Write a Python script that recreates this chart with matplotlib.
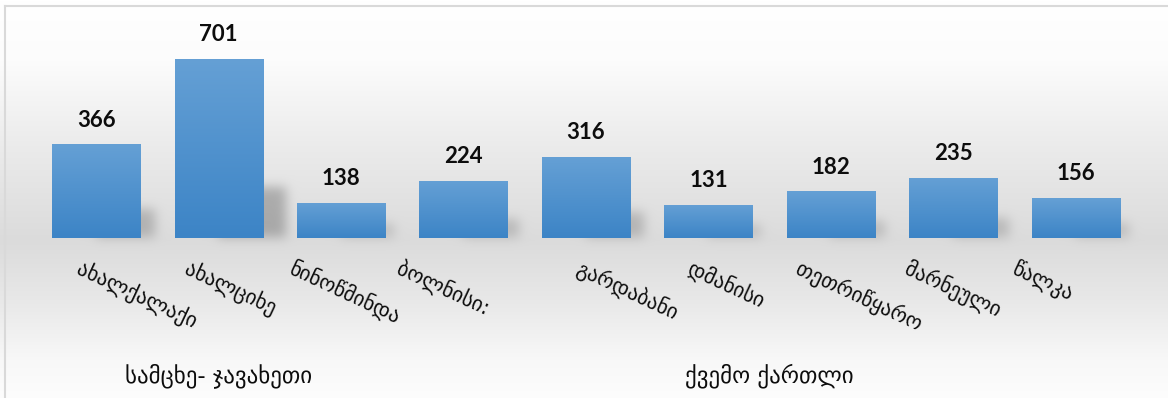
import numpy as np
import matplotlib
matplotlib.use("Agg")
import matplotlib.pyplot as plt

# District values, grouped by region
districts = ["ახალქალაქი", "ახალციხე", "ნინოწმინდა", "ბოლნისი:", "გარდაბანი",
             "დმანისი", "თეთრიწყარო", "მარნეული", "წალკა"]
values = [366, 701, 138, 224, 316, 131, 182, 235, 156]
regions = ["სამცხე- ჯავახეთი", "ქვემო ქართლი"]
region_sizes = [3, 6]

W, H = 1168, 398
DPI = 100
fig = plt.figure(figsize=(W / DPI, H / DPI), dpi=DPI)

# background axes in pixel units (y grows upward)
bg = fig.add_axes([0, 0, 1, 1], zorder=-5)
bg.set_xlim(0, W)
bg.set_ylim(0, H)
bg.axis("off")

# plot axes
x0, x1 = 35, 1137
base_px = 238          # baseline, pixels from top
ymax = 800
px_per_unit = 0.2556
top_px = base_px - ymax * px_per_unit
ax = fig.add_axes([x0 / W, (H - base_px) / H, (x1 - x0) / W, (base_px - top_px) / H], zorder=0)
ax.set_xlim(-0.5, len(values) - 0.5)
ax.set_ylim(0, ymax)
ax.patch.set_alpha(0)
ax.axis("off")

xs = np.arange(len(values))
bar_w = 0.72
bars = ax.bar(xs, values, width=bar_w, color="#4a8ccb", zorder=2, linewidth=0)

# vertical gradient inside each bar
grad = np.linspace(0, 1, 256).reshape(-1, 1)
c_top = np.array([0x65, 0xa0, 0xd5]) / 255
c_bot = np.array([0x3c, 0x84, 0xc6]) / 255
grad_rgb = c_bot[None, None, :] * (1 - grad[..., None]) + c_top[None, None, :] * grad[..., None]
for b in bars:
    im = ax.imshow(grad_rgb, extent=[b.get_x(), b.get_x() + b.get_width(), 0, b.get_height()],
                   origin="lower", aspect="auto", zorder=3, interpolation="bicubic")
    im.set_clip_path(b)
    b.set_facecolor("none")
ax.set_xlim(-0.5, len(values) - 0.5)
ax.set_ylim(0, ymax)

# background: vertical grey gradient + soft shadows cast behind bars
ys_top = np.arange(H)  # pixel rows from top
stops_y = [0, 60, 140, 240, 300, 360, 398]
stops_v = [255, 252, 236, 219, 232, 248, 253]
col = np.interp(ys_top, stops_y, stops_v) / 255.0
shade = np.zeros((H, W))
for b in bars:
    left_px, top_y = ax.transData.transform((b.get_x(), b.get_height()))
    right_px, base_y = ax.transData.transform((b.get_x() + b.get_width(), 0))
    h_px = top_y - base_y
    l = int((left_px + right_px) / 2)
    r = int(right_px + 0.10 * h_px + 6)
    t = int(base_px - 0.26 * h_px - 4)
    strength = min(1.0, 0.45 + h_px / 250)
    shade[t:base_px - 1, l:r] = strength
sig = 5.5
k = np.exp(-0.5 * (np.arange(-16, 17) / sig) ** 2)
k /= k.sum()
shade = np.apply_along_axis(lambda r: np.convolve(r, k, mode="same"), 1, shade)
shade = np.apply_along_axis(lambda c: np.convolve(c, k, mode="same"), 0, shade)
img = col[:, None] * (1 - 0.24 * shade)
rgb = np.dstack([img, img, img])
bg.imshow(rgb, extent=[0, W, 0, H], origin="upper", aspect="auto", interpolation="bilinear")

# chart border
bg.plot([4.5, 4.5], [0, H - 5.5], color="#d9d9d9", lw=1.5)
bg.plot([4.5, W], [H - 5.5, H - 5.5], color="#d9d9d9", lw=1.5)

# value labels
for xi, v in zip(xs, values):
    ax.annotate(f"{v}", (xi, v), xytext=(0, 10), textcoords="offset points",
                ha="center", va="bottom", fontsize=16, fontweight="bold",
                family="Lato", color="#0d0d0d", zorder=5, annotation_clip=False)

# rotated district labels; horizontal shift (px) of each label's start from its bar centre
label_shift = [-14, -28, -46, -61, -4, -15, -29, -43, -58]
for xi, name, dx in zip(xs, districts, label_shift):
    px, _ = ax.transData.transform((xi, 0))
    fig.text((px + dx) / W, (H - base_px - 20) / H, name, rotation=-25,
             rotation_mode="anchor", ha="left", va="top", fontsize=15,
             family="DejaVu Sans", color="#0d0d0d")

# region labels centred under their districts
start = 0
for name, n in zip(regions, region_sizes):
    a, _ = ax.transData.transform((start - 0.5, 0))
    b_, _ = ax.transData.transform((start + n - 0.5, 0))
    fig.text((a + b_) / 2 / W, (H - 376) / H, name, ha="center", va="center",
             fontsize=16.5, family="DejaVu Sans", color="#0d0d0d")
    start += n

fig.savefig("out.png", dpi=DPI)
